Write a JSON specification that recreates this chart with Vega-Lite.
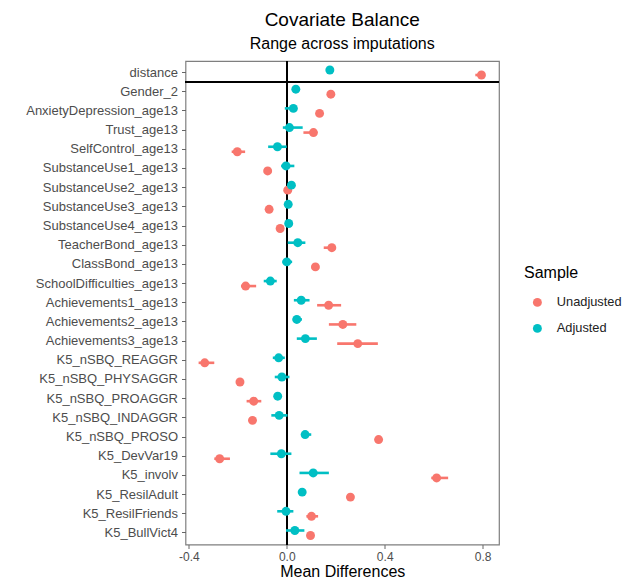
{
  "$schema": "https://vega.github.io/schema/vega-lite/v6.json",
  "autosize": {"type": "none"},
  "padding": {"left": 185.5, "top": 61, "right": 134, "bottom": 35.5},
  "width": 313.5,
  "height": 483.5,
  "background": "white",
  "title": {
    "text": "Covariate Balance",
    "subtitle": "Range across imputations",
    "anchor": "middle",
    "font": "Liberation Sans",
    "fontSize": 19,
    "fontWeight": "normal",
    "color": "black",
    "subtitleFont": "Liberation Sans",
    "subtitleFontSize": 16,
    "subtitleColor": "black",
    "offset": 8,
    "subtitlePadding": 6
  },
  "config": {
    "view": {"stroke": "#7F7F7F", "strokeWidth": 1.2},
    "font": "Liberation Sans"
  },
  "data": {
    "values": [
      {"v": "distance", "s": "Adjusted", "m": 0.176, "lo": 0.160, "hi": 0.192},
      {"v": "distance", "s": "Unadjusted", "m": 0.795, "lo": 0.770, "hi": 0.800},
      {"v": "Gender_2", "s": "Adjusted", "m": 0.037, "lo": 0.033, "hi": 0.041},
      {"v": "Gender_2", "s": "Unadjusted", "m": 0.180, "lo": 0.176, "hi": 0.184},
      {"v": "AnxietyDepression_age13", "s": "Adjusted", "m": 0.027, "lo": -0.008, "hi": 0.031},
      {"v": "AnxietyDepression_age13", "s": "Unadjusted", "m": 0.134, "lo": 0.130, "hi": 0.138},
      {"v": "Trust_age13", "s": "Adjusted", "m": 0.011, "lo": -0.016, "hi": 0.065},
      {"v": "Trust_age13", "s": "Unadjusted", "m": 0.109, "lo": 0.068, "hi": 0.115},
      {"v": "SelfControl_age13", "s": "Adjusted", "m": -0.038, "lo": -0.076, "hi": 0.0},
      {"v": "SelfControl_age13", "s": "Unadjusted", "m": -0.202, "lo": -0.225, "hi": -0.170},
      {"v": "SubstanceUse1_age13", "s": "Adjusted", "m": -0.003, "lo": -0.023, "hi": 0.031},
      {"v": "SubstanceUse1_age13", "s": "Unadjusted", "m": -0.078, "lo": -0.082, "hi": -0.074},
      {"v": "SubstanceUse2_age13", "s": "Adjusted", "m": 0.019, "lo": 0.015, "hi": 0.023},
      {"v": "SubstanceUse2_age13", "s": "Unadjusted", "m": 0.004, "lo": 0.000, "hi": 0.008},
      {"v": "SubstanceUse3_age13", "s": "Adjusted", "m": 0.006, "lo": 0.002, "hi": 0.010},
      {"v": "SubstanceUse3_age13", "s": "Unadjusted", "m": -0.072, "lo": -0.076, "hi": -0.068},
      {"v": "SubstanceUse4_age13", "s": "Adjusted", "m": 0.008, "lo": 0.004, "hi": 0.012},
      {"v": "SubstanceUse4_age13", "s": "Unadjusted", "m": -0.027, "lo": -0.031, "hi": -0.023},
      {"v": "TeacherBond_age13", "s": "Adjusted", "m": 0.045, "lo": 0.004, "hi": 0.076},
      {"v": "TeacherBond_age13", "s": "Unadjusted", "m": 0.184, "lo": 0.151, "hi": 0.195},
      {"v": "ClassBond_age13", "s": "Adjusted", "m": 0.000, "lo": -0.018, "hi": 0.022},
      {"v": "ClassBond_age13", "s": "Unadjusted", "m": 0.117, "lo": 0.113, "hi": 0.121},
      {"v": "SchoolDifficulties_age13", "s": "Adjusted", "m": -0.067, "lo": -0.094, "hi": -0.041},
      {"v": "SchoolDifficulties_age13", "s": "Unadjusted", "m": -0.168, "lo": -0.187, "hi": -0.125},
      {"v": "Achievements1_age13", "s": "Adjusted", "m": 0.059, "lo": 0.029, "hi": 0.093},
      {"v": "Achievements1_age13", "s": "Unadjusted", "m": 0.171, "lo": 0.124, "hi": 0.222},
      {"v": "Achievements2_age13", "s": "Adjusted", "m": 0.041, "lo": 0.024, "hi": 0.062},
      {"v": "Achievements2_age13", "s": "Unadjusted", "m": 0.229, "lo": 0.172, "hi": 0.284},
      {"v": "Achievements3_age13", "s": "Adjusted", "m": 0.076, "lo": 0.041, "hi": 0.123},
      {"v": "Achievements3_age13", "s": "Unadjusted", "m": 0.290, "lo": 0.206, "hi": 0.372},
      {"v": "K5_nSBQ_REAGGR", "s": "Adjusted", "m": -0.033, "lo": -0.057, "hi": -0.008},
      {"v": "K5_nSBQ_REAGGR", "s": "Unadjusted", "m": -0.335, "lo": -0.360, "hi": -0.296},
      {"v": "K5_nSBQ_PHYSAGGR", "s": "Adjusted", "m": -0.020, "lo": -0.049, "hi": 0.011},
      {"v": "K5_nSBQ_PHYSAGGR", "s": "Unadjusted", "m": -0.191, "lo": -0.195, "hi": -0.187},
      {"v": "K5_nSBQ_PROAGGR", "s": "Adjusted", "m": -0.037, "lo": -0.041, "hi": -0.033},
      {"v": "K5_nSBQ_PROAGGR", "s": "Unadjusted", "m": -0.135, "lo": -0.164, "hi": -0.104},
      {"v": "K5_nSBQ_INDAGGR", "s": "Adjusted", "m": -0.031, "lo": -0.063, "hi": 0.003},
      {"v": "K5_nSBQ_INDAGGR", "s": "Unadjusted", "m": -0.140, "lo": -0.144, "hi": -0.136},
      {"v": "K5_nSBQ_PROSO", "s": "Adjusted", "m": 0.075, "lo": 0.059, "hi": 0.100},
      {"v": "K5_nSBQ_PROSO", "s": "Unadjusted", "m": 0.375, "lo": 0.371, "hi": 0.379},
      {"v": "K5_DevVar19", "s": "Adjusted", "m": -0.022, "lo": -0.067, "hi": 0.019},
      {"v": "K5_DevVar19", "s": "Unadjusted", "m": -0.274, "lo": -0.296, "hi": -0.232},
      {"v": "K5_involv", "s": "Adjusted", "m": 0.108, "lo": 0.052, "hi": 0.172},
      {"v": "K5_involv", "s": "Unadjusted", "m": 0.612, "lo": 0.590, "hi": 0.659},
      {"v": "K5_ResilAdult", "s": "Adjusted", "m": 0.063, "lo": 0.059, "hi": 0.067},
      {"v": "K5_ResilAdult", "s": "Unadjusted", "m": 0.260, "lo": 0.250, "hi": 0.274},
      {"v": "K5_ResilFriends", "s": "Adjusted", "m": -0.003, "lo": -0.039, "hi": 0.027},
      {"v": "K5_ResilFriends", "s": "Unadjusted", "m": 0.101, "lo": 0.080, "hi": 0.128},
      {"v": "K5_BullVict4", "s": "Adjusted", "m": 0.033, "lo": -0.003, "hi": 0.072},
      {"v": "K5_BullVict4", "s": "Unadjusted", "m": 0.097, "lo": 0.090, "hi": 0.104}
    ]
  },
  "encoding": {
    "y": {
      "field": "v",
      "type": "nominal",
      "sort": null,
      "scale": {
        "type": "band",
        "paddingInner": 0,
        "paddingOuter": 0.1,
        "domain": ["distance", "Gender_2", "AnxietyDepression_age13", "Trust_age13", "SelfControl_age13", "SubstanceUse1_age13", "SubstanceUse2_age13", "SubstanceUse3_age13", "SubstanceUse4_age13", "TeacherBond_age13", "ClassBond_age13", "SchoolDifficulties_age13", "Achievements1_age13", "Achievements2_age13", "Achievements3_age13", "K5_nSBQ_REAGGR", "K5_nSBQ_PHYSAGGR", "K5_nSBQ_PROAGGR", "K5_nSBQ_INDAGGR", "K5_nSBQ_PROSO", "K5_DevVar19", "K5_involv", "K5_ResilAdult", "K5_ResilFriends", "K5_BullVict4"]
      },
      "axis": {
        "title": null,
        "domain": false,
        "grid": false,
        "bandPosition": 0.5,
        "tickSize": 4,
        "tickColor": "#666666",
        "labelFontSize": 13,
        "labelColor": "#4D4D4D",
        "labelPadding": 4,
        "labelFont": "Liberation Sans"
      }
    }
  },
  "layer": [
    {
      "mark": {"type": "rule", "color": "black", "strokeWidth": 1.4},
      "encoding": {
        "x": {
          "datum": 0,
          "type": "quantitative",
          "scale": {"domain": [-0.4135, 0.8667], "nice": false, "zero": false},
          "axis": {
            "title": "Mean Differences",
            "values": [-0.4, 0, 0.4, 0.8],
            "labelExpr": "datum.value < 0 ? '-' + format(-datum.value, '.1f') : format(datum.value, '.1f')",
            "domain": false,
            "grid": false,
            "tickSize": 4,
            "tickColor": "#666666",
            "labelFontSize": 12,
            "labelColor": "#4D4D4D",
            "labelPadding": 3,
            "labelFont": "Liberation Sans",
            "titleFont": "Liberation Sans",
            "titleFontSize": 16,
            "titleFontWeight": "normal",
            "titleColor": "black",
            "titlePadding": 1
          }
        },
        "y": null
      }
    },
    {
      "mark": {"type": "rule", "color": "black", "strokeWidth": 1.4},
      "encoding": {
        "y": {"datum": "Gender_2", "type": "nominal", "bandPosition": 0}
      }
    },
    {
      "transform": [{"filter": "datum.s == 'Unadjusted'"}],
      "mark": {"type": "rule", "strokeWidth": 2.6, "yOffset": 2.5},
      "encoding": {
        "x": {"field": "lo", "type": "quantitative"},
        "x2": {"field": "hi"},
        "stroke": {"field": "s", "type": "nominal", "scale": {"domain": ["Unadjusted", "Adjusted"], "range": ["#F8766D", "#00BFC4"]}}
      }
    },
    {
      "transform": [{"filter": "datum.s == 'Unadjusted'"}],
      "mark": {"type": "point", "filled": true, "opacity": 1, "size": 80, "yOffset": 2.5},
      "encoding": {
        "x": {"field": "m", "type": "quantitative"},
        "color": {
          "field": "s",
          "type": "nominal",
          "scale": {"domain": ["Unadjusted", "Adjusted"], "range": ["#F8766D", "#00BFC4"]},
          "legend": {
            "title": "Sample",
            "orient": "none",
            "legendX": 338.5,
            "legendY": 204,
            "symbolType": "circle",
            "symbolSize": 80,
            "symbolOpacity": 1,
            "symbolStrokeWidth": 0,
            "symbolOffset": 7,
            "labelOffset": 13,
            "labelFontSize": 12.8,
            "labelColor": "#222222",
            "labelFont": "Liberation Sans",
            "titleFont": "Liberation Sans",
            "titleFontSize": 16,
            "titleFontWeight": "normal",
            "titleColor": "black",
            "titlePadding": 15,
            "rowPadding": 12,
            "padding": 0
          }
        }
      }
    },
    {
      "transform": [{"filter": "datum.s == 'Adjusted'"}],
      "mark": {"type": "rule", "strokeWidth": 2.6, "yOffset": -2.5},
      "encoding": {
        "x": {"field": "lo", "type": "quantitative"},
        "x2": {"field": "hi"},
        "stroke": {"field": "s", "type": "nominal"}
      }
    },
    {
      "transform": [{"filter": "datum.s == 'Adjusted'"}],
      "mark": {"type": "point", "filled": true, "opacity": 1, "size": 80, "yOffset": -2.5},
      "encoding": {
        "x": {"field": "m", "type": "quantitative"},
        "color": {"field": "s", "type": "nominal"}
      }
    }
  ]
}
